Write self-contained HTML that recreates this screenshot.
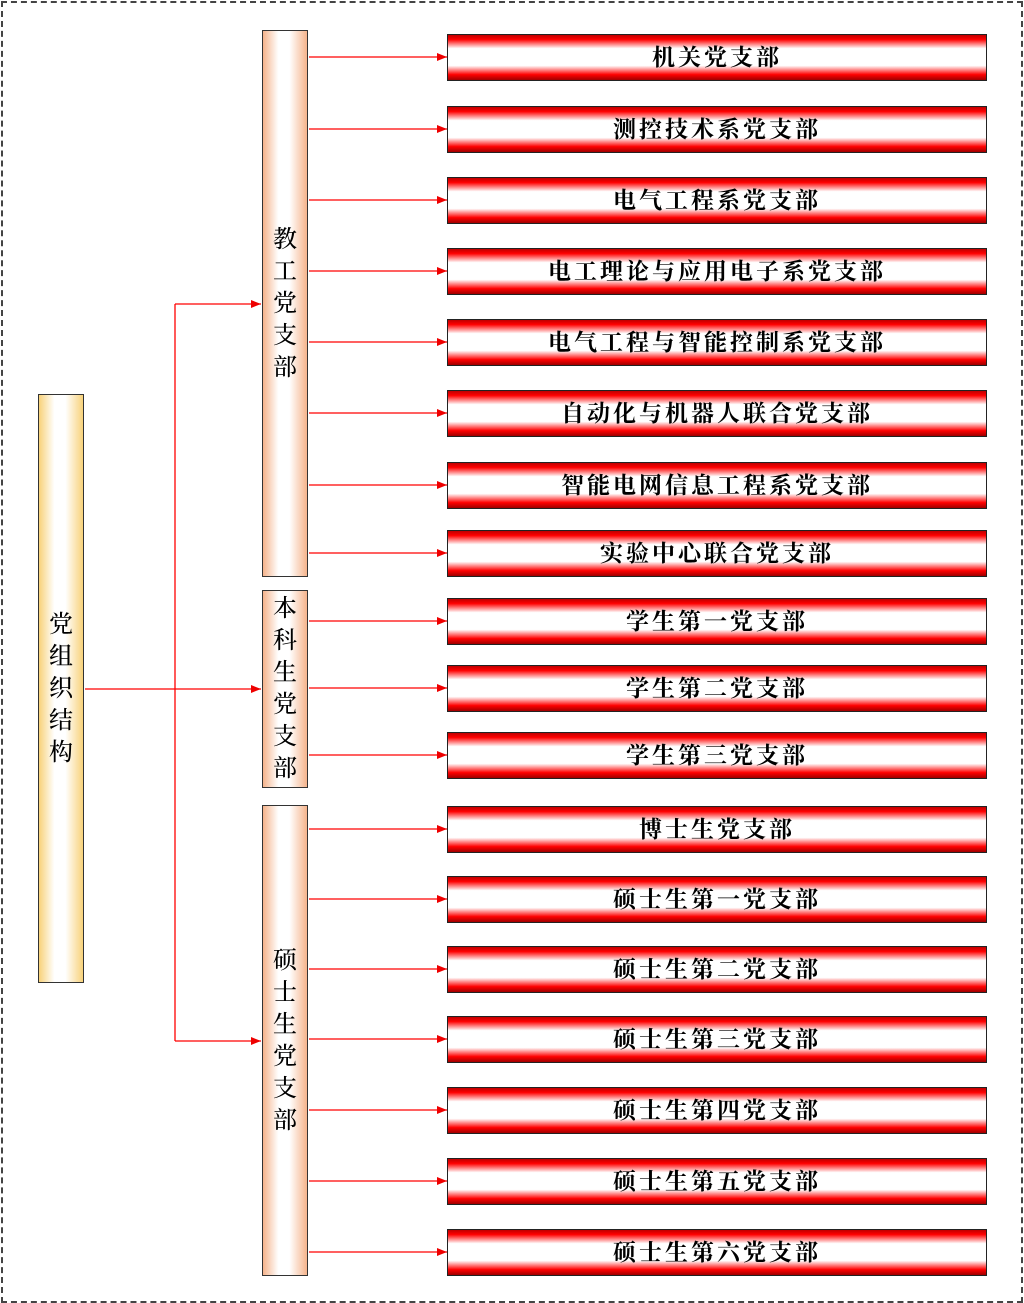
<!DOCTYPE html>
<html><head><meta charset="utf-8"><style>
body{margin:0;width:1024px;height:1303px;background:#fff;position:relative;overflow:hidden;font-family:"Liberation Serif","Noto Serif CJK SC",serif;}
.frame{position:absolute;left:1px;top:1px;width:1018px;height:1298px;border:2px dashed #444;}
.r{position:absolute;left:447px;width:538px;height:45px;border:1.5px solid #222;
background:linear-gradient(to bottom,#c00000 0%,#ff0000 10%,#fff 30%,#fff 68%,#ff0000 88%,#a00000 100%);
text-align:center;line-height:45px;font-size:23px;font-weight:bold;letter-spacing:3px;color:#000;}
.v{position:absolute;width:44px;border:1.5px solid #333;display:flex;flex-direction:column;align-items:center;justify-content:center;
font-size:24px;line-height:32px;color:#000;font-weight:500;}
.o{background:linear-gradient(to right,#f5b48c 0%,#fff 35%,#fff 60%,#f5b48c 100%);}
.y{background:linear-gradient(to right,#f8d27a 0%,#fff 35%,#fff 60%,#f8d27a 100%);}
svg{position:absolute;left:0;top:0;}
</style></head><body>
<div class="frame"></div>
<svg width="1024" height="1303">
<defs><marker id="a" markerWidth="10" markerHeight="8" refX="10" refY="4" orient="auto" markerUnits="userSpaceOnUse"><path d="M0,0L10,4L0,8z" fill="#e00"/></marker></defs>
<g stroke="#f00" stroke-width="1.3" fill="none">
<line x1="85" y1="689" x2="261" y2="689" marker-end="url(#a)"/>
<line x1="175" y1="304" x2="175" y2="1041"/>
<line x1="175" y1="304" x2="261" y2="304" marker-end="url(#a)"/>
<line x1="175" y1="1041" x2="261" y2="1041" marker-end="url(#a)"/>
<g marker-end="url(#a)">
<line x1="309" y1="57" x2="447" y2="57"/><line x1="309" y1="129" x2="447" y2="129"/>
<line x1="309" y1="200" x2="447" y2="200"/><line x1="309" y1="271" x2="447" y2="271"/>
<line x1="309" y1="342" x2="447" y2="342"/><line x1="309" y1="413" x2="447" y2="413"/>
<line x1="309" y1="485" x2="447" y2="485"/><line x1="309" y1="553" x2="447" y2="553"/>
<line x1="309" y1="621" x2="447" y2="621"/><line x1="309" y1="688" x2="447" y2="688"/>
<line x1="309" y1="755" x2="447" y2="755"/><line x1="309" y1="829" x2="447" y2="829"/>
<line x1="309" y1="899" x2="447" y2="899"/><line x1="309" y1="969" x2="447" y2="969"/>
<line x1="309" y1="1039" x2="447" y2="1039"/><line x1="309" y1="1110" x2="447" y2="1110"/>
<line x1="309" y1="1181" x2="447" y2="1181"/><line x1="309" y1="1252" x2="447" y2="1252"/>
</g></g></svg>
<div class="v o" style="left:262px;top:30px;height:545px"><span>教</span><span>工</span><span>党</span><span>支</span><span>部</span></div>
<div class="v o" style="left:262px;top:590px;height:196px"><span>本</span><span>科</span><span>生</span><span>党</span><span>支</span><span>部</span></div>
<div class="v o" style="left:262px;top:805px;height:469px;"><span>硕</span><span>士</span><span>生</span><span>党</span><span>支</span><span>部</span></div>
<div class="v y" style="left:38px;top:394px;height:587px"><span>党</span><span>组</span><span>织</span><span>结</span><span>构</span></div>
<div class="r" style="top:34px">机关党支部</div>
<div class="r" style="top:106px">测控技术系党支部</div>
<div class="r" style="top:177px">电气工程系党支部</div>
<div class="r" style="top:248px">电工理论与应用电子系党支部</div>
<div class="r" style="top:319px">电气工程与智能控制系党支部</div>
<div class="r" style="top:390px">自动化与机器人联合党支部</div>
<div class="r" style="top:462px">智能电网信息工程系党支部</div>
<div class="r" style="top:530px">实验中心联合党支部</div>
<div class="r" style="top:598px">学生第一党支部</div>
<div class="r" style="top:665px">学生第二党支部</div>
<div class="r" style="top:732px">学生第三党支部</div>
<div class="r" style="top:806px">博士生党支部</div>
<div class="r" style="top:876px">硕士生第一党支部</div>
<div class="r" style="top:946px">硕士生第二党支部</div>
<div class="r" style="top:1016px">硕士生第三党支部</div>
<div class="r" style="top:1087px">硕士生第四党支部</div>
<div class="r" style="top:1158px">硕士生第五党支部</div>
<div class="r" style="top:1229px">硕士生第六党支部</div>
</body></html>
